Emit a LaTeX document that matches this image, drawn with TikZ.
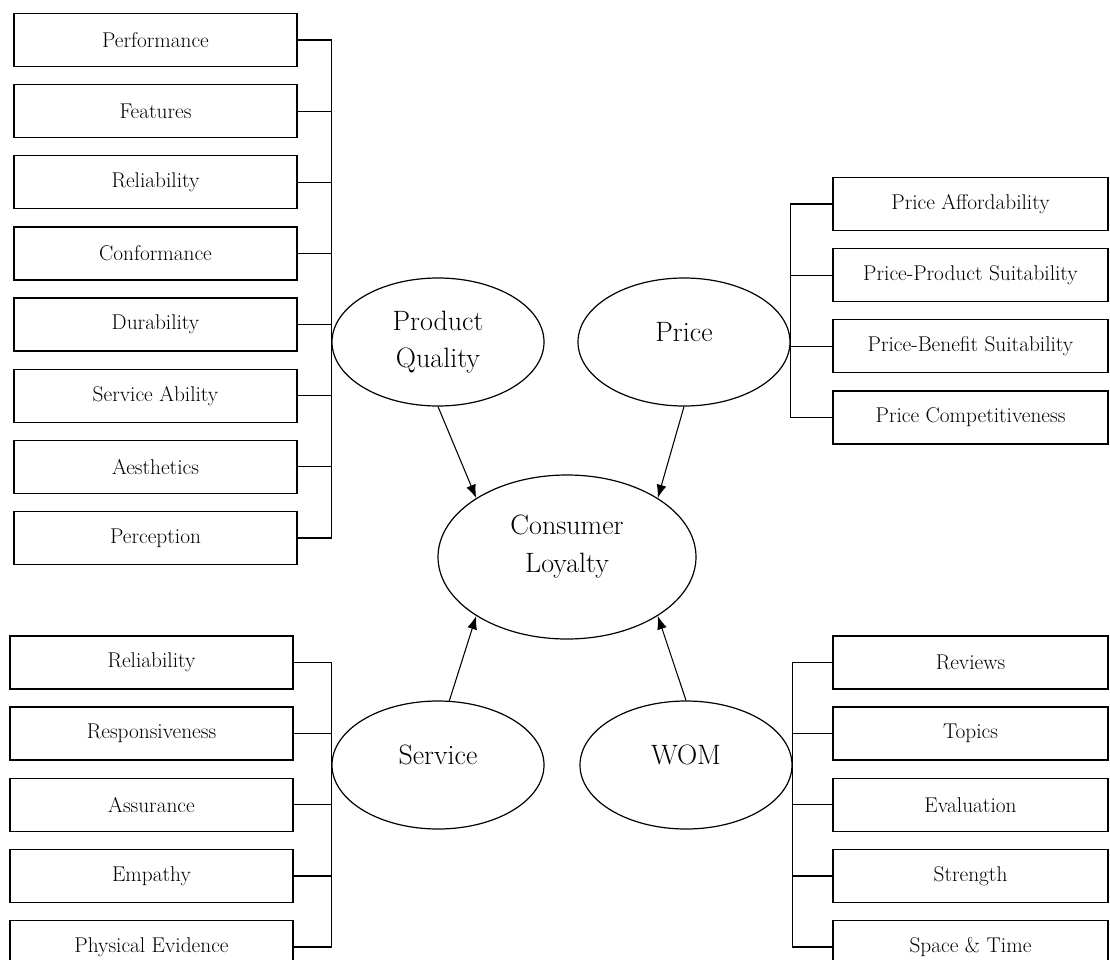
\documentclass[tikz,border=0pt]{standalone}
\usepackage{tikz}
\usetikzlibrary{shapes.geometric, arrows.meta, positioning}
\tikzstyle{indicator} = [rectangle, line width=1pt, minimum height=39.75pt, inner sep=0pt, text centered, draw=black, font=\fontsize{16}{19}\selectfont]
\tikzstyle{indicatorL} = [indicator, minimum width=212.25pt]
\tikzstyle{indicatorR} = [indicator, minimum width=206.25pt]
\tikzstyle{construct} = [ellipse, line width=0.9pt, minimum width=159pt, minimum height=96pt, inner sep=0pt, align=center, draw=black, font=\fontsize{21}{28}\selectfont]
\tikzstyle{bus} = [line width=0.9pt]
\tikzstyle{arrow} = [line width=0.8pt, -{Latex[length=10pt, width=7.5pt]}]

\begin{document}
\begin{tikzpicture}[x=0.75pt, y=-0.75pt, node distance=12.6pt]
		\path [use as bounding box, fill=white] (0,0) rectangle (1110,960);
		% constructs
		\node (Quality) [construct] at (438,342) {Product\\Quality};
		\node (Price) [construct, text depth=15pt] at (684,342) {Price};
		\node (Loyalty) [construct, minimum width=193.5pt, minimum height=123pt, text depth=20pt] at (567,557) {Consumer\\Loyalty};
		\node (Service) [construct, text depth=15pt] at (438,765) {Service};
		\node (WOM) [construct, text depth=15pt] at (686,765) {WOM};
		% product quality indicators
		\node (Performance) [indicatorL] at (155.5,40) {Performance};
		\node (Features) [indicatorL, below = of Performance] {Features};
		\node (ReliabilityPQ) [indicatorL, below = of Features] {Reliability};
		\node (Conformance) [indicatorL, below = of ReliabilityPQ] {Conformance};
		\node (Durability) [indicatorL, below = of Conformance] {Durability};
		\node (ServiceAbility) [indicatorL, below = of Durability] {Service Ability};
		\node (Aesthetics) [indicatorL, below = of ServiceAbility] {Aesthetics};
		\node (Perception) [indicatorL, below = of Aesthetics] {Perception};
		% price indicators
		\node (Affordability) [indicatorR] at (970.5,204) {Price Affordability};
		\node (ProductSuit) [indicatorR, below = of Affordability] {Price-Product Suitability};
		\node (BenefitSuit) [indicatorR, below = of ProductSuit] {Price-Benefit Suitability};
		\node (Competitiveness) [indicatorR, below = of BenefitSuit] {Price Competitiveness};
		% service indicators
		\node (ReliabilitySV) [indicatorL] at (151.5,662.5) {Reliability};
		\node (Responsiveness) [indicatorL, below = of ReliabilitySV] {Responsiveness};
		\node (Assurance) [indicatorL, below = of Responsiveness] {Assurance};
		\node (Empathy) [indicatorL, below = of Assurance] {Empathy};
		\node (Evidence) [indicatorL, below = of Empathy] {Physical Evidence};
		% wom indicators
		\node (Reviews) [indicatorR] at (970.5,662.5) {Reviews};
		\node (Topics) [indicatorR, below = of Reviews] {Topics};
		\node (Evaluation) [indicatorR, below = of Topics] {Evaluation};
		\node (Strength) [indicatorR, below = of Evaluation] {Strength};
		\node (SpaceTime) [indicatorR, below = of Strength] {Space \& Time};
		% brackets
		\draw [bus] (Performance.east) -- (Performance.east -| Quality.west) -- (Perception.east -| Quality.west) -- (Perception.east);
		\draw [bus] (Features.east) -- (Features.east -| Quality.west);
		\draw [bus] (ReliabilityPQ.east) -- (ReliabilityPQ.east -| Quality.west);
		\draw [bus] (Conformance.east) -- (Conformance.east -| Quality.west);
		\draw [bus] (Durability.east) -- (Durability.east -| Quality.west);
		\draw [bus] (ServiceAbility.east) -- (ServiceAbility.east -| Quality.west);
		\draw [bus] (Aesthetics.east) -- (Aesthetics.east -| Quality.west);
		\draw [bus] (Affordability.west) -- (Affordability.west -| Price.east) -- (Competitiveness.west -| Price.east) -- (Competitiveness.west);
		\draw [bus] (ProductSuit.west) -- (ProductSuit.west -| Price.east);
		\draw [bus] (BenefitSuit.west) -- (BenefitSuit.west -| Price.east);
		\draw [bus] (ReliabilitySV.east) -- (ReliabilitySV.east -| Service.west) -- (Evidence.east -| Service.west) -- (Evidence.east);
		\draw [bus] (Responsiveness.east) -- (Responsiveness.east -| Service.west);
		\draw [bus] (Assurance.east) -- (Assurance.east -| Service.west);
		\draw [bus] (Empathy.east) -- (Empathy.east -| Service.west);
		\draw [bus] (Reviews.west) -- (Reviews.west -| WOM.east) -- (SpaceTime.west -| WOM.east) -- (SpaceTime.west);
		\draw [bus] (Topics.west) -- (Topics.west -| WOM.east);
		\draw [bus] (Evaluation.west) -- (Evaluation.west -| WOM.east);
		\draw [bus] (Strength.west) -- (Strength.west -| WOM.east);
		% arrows
		\draw [arrow] (Quality.south) -- (Loyalty.147);
		\draw [arrow] (Price.south) -- (Loyalty.33);
		\draw [arrow] (Service.80) -- (Loyalty.213);
		\draw [arrow] (WOM.north) -- (Loyalty.327);
\end{tikzpicture}
\end{document}
